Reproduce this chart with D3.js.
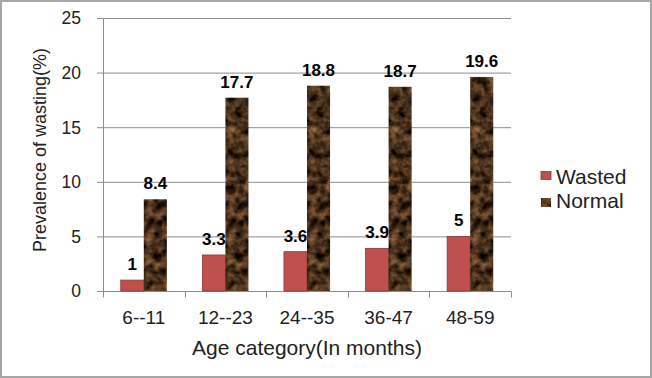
<!DOCTYPE html>
<html>
<head>
<meta charset="utf-8">
<script src="https://cdn.jsdelivr.net/npm/d3@7"></script>
<style>
  body { margin: 0; background: #fff; }
  svg { display: block; font-family: "Liberation Sans", Arial, sans-serif; }
</style>
</head>
<body>
<div id="chart"></div>
<script>
// Data
const categories = ["6--11", "12--23", "24--35", "36-47", "48-59"];
const wasted = [1, 3.3, 3.6, 3.9, 5];
const normal = [8.4, 17.7, 18.8, 18.7, 19.6];
const yTicks = [0, 5, 10, 15, 20, 25];

const W = 652, H = 378;
const margin = { top: 18, left: 103, right: 141, bottom: 87 };
const width = W - margin.left - margin.right;
const height = H - margin.top - margin.bottom;

const svg = d3.select("#chart").append("svg")
  .attr("width", W)
  .attr("height", H);

// brown marbled texture for "Normal"
const defs = svg.append("defs");
const f = defs.append("filter").attr("id", "marble")
  .attr("x", 0).attr("y", 0).attr("width", 1).attr("height", 1)
  .attr("color-interpolation-filters", "sRGB");
f.append("feTurbulence")
  .attr("type", "fractalNoise")
  .attr("baseFrequency", 0.12)
  .attr("numOctaves", 3)
  .attr("seed", 7)
  .attr("result", "noise");
f.append("feColorMatrix")
  .attr("in", "noise")
  .attr("type", "matrix")
  .attr("values", "0.85 0 0 0 -0.15  0.62 0 0 0 -0.13  0.42 0 0 0 -0.11  0 0 0 0 1")
  .attr("result", "col");
f.append("feComposite").attr("in", "col").attr("in2", "SourceGraphic").attr("operator", "in");

// outer frame
svg.append("rect")
  .attr("x", 1).attr("y", 1)
  .attr("width", W - 2).attr("height", H - 2)
  .attr("fill", "#fff")
  .attr("stroke", "#a6a6a6")
  .attr("stroke-width", 2);

const g = svg.append("g")
  .attr("transform", `translate(${margin.left},${margin.top})`);

// scales
const x = d3.scaleBand()
  .domain(categories)
  .range([0, width])
  .paddingInner(0.435)
  .paddingOuter(0.2175);

const y = d3.scaleLinear()
  .domain([0, 25])
  .range([height, 0]);

const x1 = d3.scaleBand()
  .domain(["wasted", "normal"])
  .range([0, x.bandwidth()]);

// gridlines
g.append("g")
  .selectAll("line")
  .data(yTicks)
  .join("line")
  .attr("x1", -6).attr("x2", width)
  .attr("y1", d => y(d) + 0.5).attr("y2", d => y(d) + 0.5)
  .attr("stroke", "#8c8c8c")
  .attr("stroke-width", 1);

// y axis line
g.append("line")
  .attr("x1", 0.5).attr("x2", 0.5)
  .attr("y1", 0).attr("y2", height)
  .attr("stroke", "#8c8c8c");

// y tick labels
g.append("g")
  .selectAll("text")
  .data(yTicks)
  .join("text")
  .attr("x", -22)
  .attr("y", d => y(d))
  .attr("dy", "0.36em")
  .attr("text-anchor", "end")
  .style("font-size", "17.5px")
  .attr("fill", "#222")
  .text(d => d);

// x axis
const xAxis = g.append("g")
  .attr("transform", `translate(0,${height + 0.5})`);
xAxis.append("line")
  .attr("x1", 0).attr("x2", width)
  .attr("stroke", "#8c8c8c");
xAxis.selectAll("line.tick")
  .data(d3.range(categories.length + 1))
  .join("line")
  .attr("class", "tick")
  .attr("x1", i => Math.round(i * width / categories.length) + 0.5)
  .attr("x2", i => Math.round(i * width / categories.length) + 0.5)
  .attr("y1", 0).attr("y2", 6)
  .attr("stroke", "#8c8c8c");
xAxis.selectAll("text")
  .data(categories)
  .join("text")
  .attr("x", d => x(d) + x.bandwidth() / 2)
  .attr("y", 32)
  .attr("text-anchor", "middle")
  .style("font-size", "19px")
  .attr("fill", "#222")
  .text(d => d);

// bars
const groups = g.append("g")
  .selectAll("g")
  .data(categories.map((c, i) => ({ c, wasted: wasted[i], normal: normal[i] })))
  .join("g")
  .attr("transform", d => `translate(${x(d.c)},0)`);

groups.append("rect")
  .attr("x", x1("wasted"))
  .attr("y", d => y(d.wasted))
  .attr("width", x1.bandwidth())
  .attr("height", d => height - y(d.wasted))
  .attr("fill", "#c0504d")
  .attr("stroke", "#8c3836")
  .attr("stroke-width", 0.8);

groups.append("rect")
  .attr("x", x1("normal"))
  .attr("y", d => y(d.normal))
  .attr("width", x1.bandwidth())
  .attr("height", d => height - y(d.normal))
  .attr("fill", "#000")
  .attr("filter", "url(#marble)");

// data labels
groups.append("text")
  .attr("x", x1("wasted") + x1.bandwidth() / 2)
  .attr("y", d => y(d.wasted) - 10)
  .attr("text-anchor", "middle")
  .style("font-size", "17px")
  .style("font-weight", "bold")
  .text(d => d.wasted);

groups.append("text")
  .attr("x", x1("normal") + x1.bandwidth() / 2)
  .attr("y", d => y(d.normal) - 10)
  .attr("text-anchor", "middle")
  .style("font-size", "17px")
  .style("font-weight", "bold")
  .text(d => d.normal);

// axis titles
svg.append("text")
  .attr("transform", "translate(46,150) rotate(-90)")
  .attr("text-anchor", "middle")
  .style("font-size", "18px")
  .attr("fill", "#222")
  .text("Prevalence of wasting(%)");

svg.append("text")
  .attr("x", 307)
  .attr("y", 355)
  .attr("text-anchor", "middle")
  .style("font-size", "21px")
  .attr("fill", "#222")
  .text("Age category(In months)");

// legend
const legend = svg.append("g").attr("transform", "translate(541,171)");
legend.append("rect")
  .attr("y", 0.5).attr("width", 10).attr("height", 8)
  .attr("fill", "#c0504d").attr("stroke", "#8c3836").attr("stroke-width", 0.8);
legend.append("text")
  .attr("x", 15).attr("y", 12.5)
  .style("font-size", "21px").attr("fill", "#222")
  .text("Wasted");
legend.append("rect")
  .attr("y", 27).attr("width", 10).attr("height", 9)
  .attr("fill", "#000").attr("filter", "url(#marble)");
legend.append("text")
  .attr("x", 15).attr("y", 36.5)
  .style("font-size", "21px").attr("fill", "#222")
  .text("Normal");
</script>
</body>
</html>
